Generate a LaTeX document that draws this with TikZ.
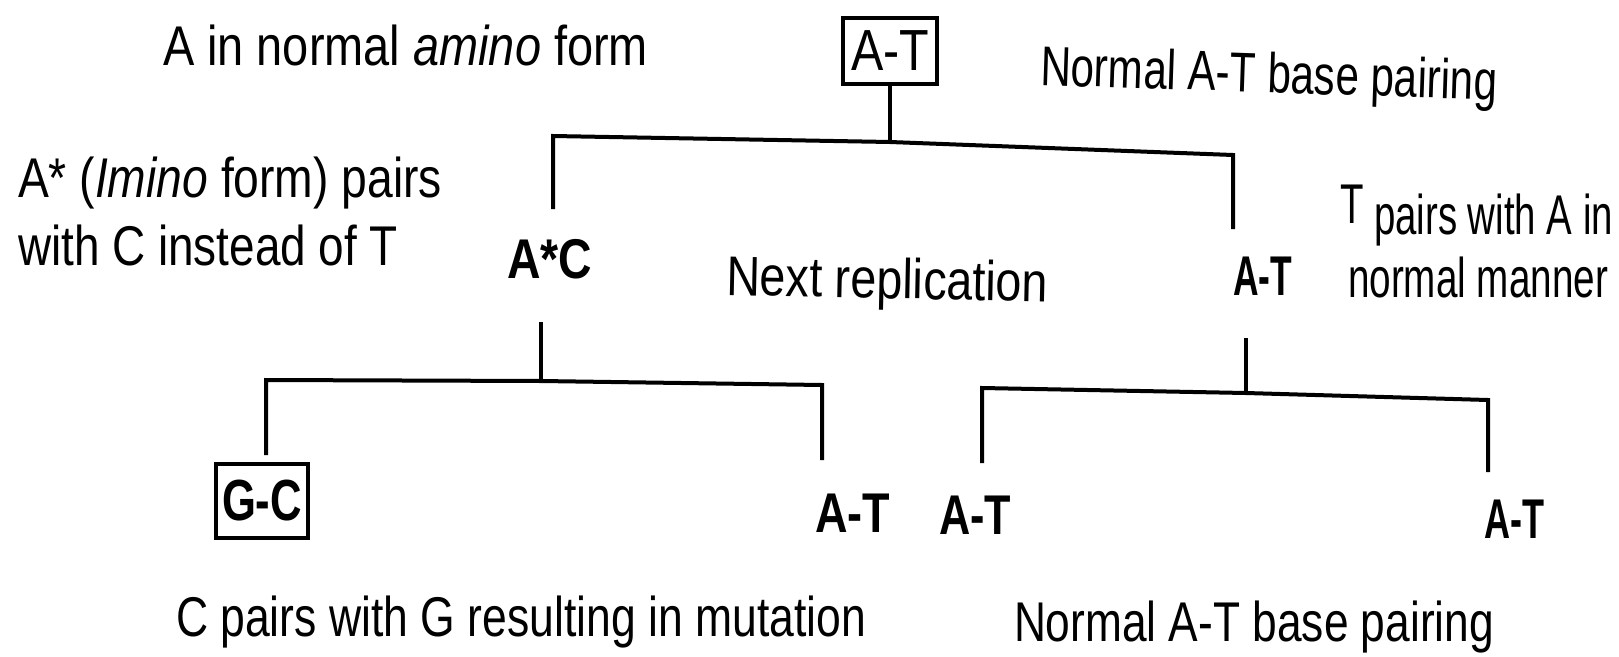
\documentclass[tikz,border=0pt]{standalone}
\usepackage{fontspec}
\setmainfont{Liberation Sans}
\usepackage{graphicx}
\newsavebox\fwbox
\newcommand\fw[2]{\sbox\fwbox{#2}\pgfmathsetmacro\fwr{#1/\the\wd\fwbox}\scalebox{\fwr}[1]{\usebox\fwbox}}
\tikzset{
  txt/.style={inner sep=0pt, outer sep=0pt, anchor=base west, font=\fontsize{56}{60}\selectfont},
  boxed/.style={draw, line width=4pt, inner sep=0pt, font=\fontsize{58}{60}\selectfont},
  conn/.style={line width=4pt, line join=miter}
}
\begin{document}
\begin{tikzpicture}[x=1pt,y=-1pt]
\useasboundingbox (0,0) rectangle (1619,656);
\fill[white] (0,0) rectangle (1619,656);

% texts
\node[txt] (amino) at (163,65) {\fw{485}{A in normal \textit{amino} form}};
\node[boxed, minimum width=94pt, minimum height=66pt] (box0) at (890,51) {\fw{78}{A-T}};
\node[txt, rotate=-1.9] (norm1) at (1040,85) {\fw{457}{Normal A-T base pairing}};
\node[txt] (imino1) at (18,197) {\fw{424}{A* (\textit{Imino} form) pairs}};
\node[txt] (imino2) at (18,265) {\fw{380}{with C instead of T}};
\node[txt] (ac) at (507,278) {\fw{85}{\bfseries A*C}};
\node[txt, rotate=-1.2] (next) at (726,295) {\fw{322}{Next replication}};
\node[txt] (at1) at (1233,295) {\fw{59}{\bfseries A-T}};
\node[txt] (tp1) at (1340,234) {\fw{273}{\raisebox{11pt}{T} pairs with A in}};
\node[txt] (tp2) at (1348,297) {\fw{260}{normal manner}};
\node[boxed, minimum width=92pt, minimum height=74pt] (gc) at (262,501) {\fw{80}{\bfseries G-C}};
\node[txt] (at2) at (815,532) {\fw{75}{\bfseries A-T}};
\node[txt] (at3) at (939,534) {\fw{72}{\bfseries A-T}};
\node[txt] (at4) at (1484,538) {\fw{60}{\bfseries A-T}};
\node[txt] (mut) at (176,636) {\fw{690}{C pairs with G resulting in mutation}};
\node[txt] (norm2) at (1014,641) {\fw{480}{Normal A-T base pairing}};

% first split
\coordinate (j0) at (890,142);
\coordinate (k1) at (553,136); \coordinate (e1) at (553,209);
\coordinate (k2) at (1233,155); \coordinate (e2) at (1233,229);
\draw[conn] (box0.south) -- (j0);
\draw[conn] (e1) -- (k1) -- (j0) -- (k2) -- (e2);

% second split, left
\coordinate (s1) at (541,322); \coordinate (j1) at (541,381);
\coordinate (k3) at (266,380); \coordinate (e3) at (266,455);
\coordinate (k4) at (822,385); \coordinate (e4) at (822,460);
\draw[conn] (s1) -- (j1);
\draw[conn] (e3) -- (k3) -- (j1) -- (k4) -- (e4);

% second split, right
\coordinate (s2) at (1246,338); \coordinate (j2) at (1246,393);
\coordinate (k5) at (982,388); \coordinate (e5) at (982,463);
\coordinate (k6) at (1488,400); \coordinate (e6) at (1488,472);
\draw[conn] (s2) -- (j2);
\draw[conn] (e5) -- (k5) -- (j2) -- (k6) -- (e6);
\end{tikzpicture}
\end{document}
